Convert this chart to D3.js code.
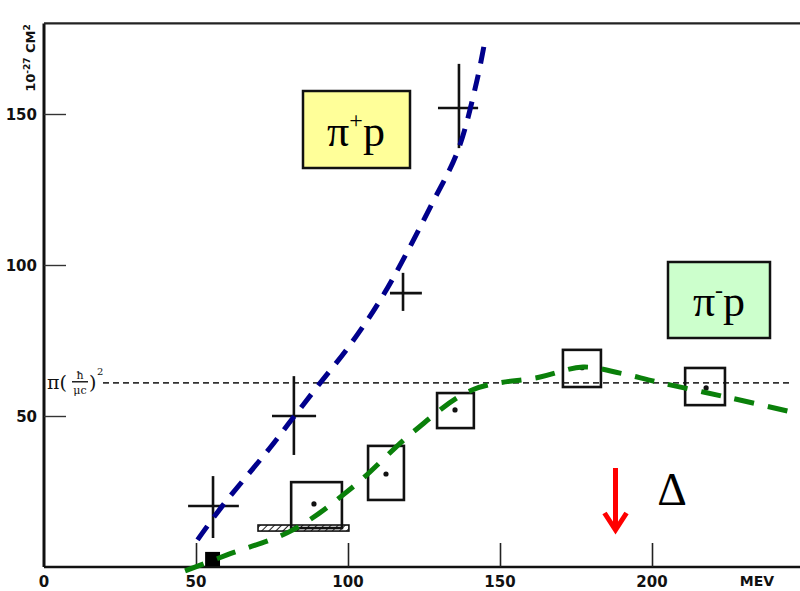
<!DOCTYPE html>
<html>
<head>
<meta charset="utf-8">
<script src="https://cdn.jsdelivr.net/npm/d3@7"></script>
<style>
  body { margin: 0; background: #fff; }
  svg { display: block; }
</style>
</head>
<body>
<div id="chart-area"></div>
<script>
// pi+ p crosses: centre and error bars (MeV, 10^-27 cm^2)
const plusX = [55.6, 82.2, 118.1, 136.5];
const plusY = [20.2, 50, 90.7, 152];
const plusXlo = [47.4, 75, 113.8, 129.6];
const plusXhi = [64.1, 89.5, 124.3, 142.8];
const plusYlo = [9.6, 37.1, 84.8, 138.7];
const plusYhi = [30.1, 63.2, 97.4, 166.6];

// pi- p boxes
const minusXlo = [81.3, 106.6, 129.3, 170.7, 210.9];
const minusXhi = [98, 118.4, 141.4, 183.2, 224];
const minusYlo = [12.9, 22.2, 46, 59.6, 53.6];
const minusYhi = [28.1, 40.1, 57.6, 71.9, 65.9];
const minusDotX = [88.8, 112.5, 135.2, 177, 217.8];
const minusDotY = [20.9, 30.8, 52, 66, 59.3];

// dashed guide curves
const blueX = [50.5, 58.5, 74.3, 82.4, 89.8, 101, 112, 128, 136.2, 142.4, 145];
const blueY = [9, 20, 39.4, 50, 59.6, 74, 90.7, 121, 138, 161, 174];
const greenX = [46.4, 60.2, 81.9, 101.6, 121.4, 140.8, 163.2, 177.3, 189.5, 201.6, 225.7, 248.7];
const greenY = [-1.3, 4, 12.3, 26.5, 44.7, 58.6, 62.9, 66.2, 64.2, 61.3, 56, 50.7];

const xTicks = [0, 50, 100, 150, 200];
const yTicks = [50, 100, 150];
const geomLimit = 61;   // pi (h/mu c)^2
const deltaE = 188;

const svg = d3.select("#chart-area")
  .append("svg")
  .attr("width", 800)
  .attr("height", 591);

const x = d3.scaleLinear().domain([0, 250]).range([44, 44 + 250 * 3.04]);
const y = d3.scaleLinear().domain([0, 180]).range([567, 567 - 180 * 3.02]);

const defs = svg.append("defs");
const hatch = defs.append("pattern")
  .attr("id", "hatch")
  .attr("patternUnits", "userSpaceOnUse")
  .attr("width", 5)
  .attr("height", 5)
  .attr("patternTransform", "rotate(45)");
hatch.append("line")
  .attr("x1", 0).attr("y1", 0).attr("x2", 0).attr("y2", 5)
  .attr("stroke", "#222").attr("stroke-width", 2);

// frame
svg.append("line")
  .attr("x1", x(0)).attr("x2", x(0)).attr("y1", y(180)).attr("y2", y(0))
  .attr("stroke", "#111").attr("stroke-width", 3);
svg.append("line")
  .attr("x1", x(0)).attr("x2", 800).attr("y1", y(180)).attr("y2", y(180))
  .attr("stroke", "#222").attr("stroke-width", 2.2);
svg.append("line")
  .attr("x1", x(0)).attr("x2", 800).attr("y1", y(0)).attr("y2", y(0))
  .attr("stroke", "#111").attr("stroke-width", 2.5);

// axes
const xAxis = d3.axisTop(x).tickValues(xTicks.slice(1)).tickSize(24).tickFormat("");
svg.append("g")
  .attr("transform", `translate(0,${y(0)})`)
  .call(xAxis)
  .call(g => g.select(".domain").remove())
  .call(g => g.selectAll(".tick line").attr("stroke", "#222").attr("stroke-width", 1.6));

const yAxis = d3.axisRight(y).tickValues(yTicks).tickSize(22).tickFormat("");
svg.append("g")
  .attr("transform", `translate(${x(0)},0)`)
  .call(yAxis)
  .call(g => g.select(".domain").remove())
  .call(g => g.selectAll(".tick line").attr("stroke", "#333").attr("stroke-width", 1.4));

const labelFont = "'DejaVu Sans', sans-serif";
svg.append("g").selectAll("text")
  .data(xTicks)
  .join("text")
  .attr("x", d => x(d))
  .attr("y", 587)
  .attr("text-anchor", "middle")
  .attr("font-family", labelFont)
  .attr("font-weight", "bold")
  .attr("font-size", 15)
  .attr("fill", "#111")
  .text(d => d);
svg.append("text")
  .attr("x", 757).attr("y", 586)
  .attr("text-anchor", "middle")
  .attr("font-family", labelFont)
  .attr("font-weight", "bold")
  .attr("font-size", 14)
  .attr("fill", "#111")
  .text("MEV");

svg.append("g").selectAll("text")
  .data(yTicks)
  .join("text")
  .attr("x", 37)
  .attr("y", d => y(d) + 6)
  .attr("text-anchor", "end")
  .attr("font-family", labelFont)
  .attr("font-weight", "bold")
  .attr("font-size", 15)
  .attr("fill", "#111")
  .text(d => d);

svg.append("text")
  .attr("transform", "translate(35,58) rotate(-90)")
  .attr("text-anchor", "middle")
  .attr("font-family", labelFont)
  .attr("font-weight", "bold")
  .attr("font-size", 13)
  .attr("fill", "#111")
  .html("10<tspan dy='-5' font-size='9'>-27</tspan><tspan dy='5'> CM</tspan><tspan dy='-5' font-size='9'>2</tspan>");

// geometric cross-section line and label
svg.append("line")
  .attr("x1", 103).attr("x2", 792)
  .attr("y1", y(geomLimit)).attr("y2", y(geomLimit))
  .attr("stroke", "#333").attr("stroke-width", 1.8)
  .attr("stroke-dasharray", "6,4");
const gy = y(geomLimit);
const serifLab = "'DejaVu Serif', serif";
svg.append("text")
  .attr("x", 47).attr("y", gy + 6)
  .attr("font-family", serifLab).attr("font-size", 19).attr("fill", "#111")
  .text("π(");
svg.append("text")
  .attr("x", 80).attr("y", gy - 4)
  .attr("text-anchor", "middle")
  .attr("font-family", serifLab).attr("font-size", 11).attr("fill", "#111")
  .text("ħ");
svg.append("line")
  .attr("x1", 72).attr("x2", 88).attr("y1", gy - 1).attr("y2", gy - 1)
  .attr("stroke", "#111").attr("stroke-width", 1.4);
svg.append("text")
  .attr("x", 80).attr("y", gy + 11)
  .attr("text-anchor", "middle")
  .attr("font-family", serifLab).attr("font-size", 11).attr("fill", "#111")
  .text("μc");
svg.append("text")
  .attr("x", 89).attr("y", gy + 6)
  .attr("font-family", serifLab).attr("font-size", 19).attr("fill", "#111")
  .text(")");
svg.append("text")
  .attr("x", 97).attr("y", gy - 8)
  .attr("font-family", serifLab).attr("font-size", 10).attr("fill", "#111")
  .text("2");

// pi- p hatched energy-band bar
svg.append("rect")
  .attr("x", x(70.4)).attr("y", y(13.9))
  .attr("width", x(100.3) - x(70.4)).attr("height", y(11.9) - y(13.9))
  .attr("fill", "url(#hatch)")
  .attr("stroke", "#111").attr("stroke-width", 1.6);

// pi- p filled square at threshold
svg.append("rect")
  .attr("x", x(53)).attr("y", y(5))
  .attr("width", x(57.9) - x(53)).attr("height", y(0.3) - y(5))
  .attr("fill", "#000");

// pi- p boxes
const boxes = minusXlo.map((d, i) => ({
  x0: d, x1: minusXhi[i], y0: minusYlo[i], y1: minusYhi[i], dx: minusDotX[i], dy: minusDotY[i]
}));
svg.append("g").selectAll("rect")
  .data(boxes)
  .join("rect")
  .attr("x", d => x(d.x0))
  .attr("y", d => y(d.y1))
  .attr("width", d => x(d.x1) - x(d.x0))
  .attr("height", d => y(d.y0) - y(d.y1))
  .attr("fill", "none")
  .attr("stroke", "#111")
  .attr("stroke-width", 2.6);
svg.append("g").selectAll("circle")
  .data(boxes)
  .join("circle")
  .attr("cx", d => x(d.dx))
  .attr("cy", d => y(d.dy))
  .attr("r", 2.6)
  .attr("fill", "#111");

// pi+ p crosses
const crosses = plusX.map((d, i) => ({
  cx: d, cy: plusY[i], xlo: plusXlo[i], xhi: plusXhi[i], ylo: plusYlo[i], yhi: plusYhi[i]
}));
const cr = svg.append("g").selectAll("g").data(crosses).join("g");
cr.append("line")
  .attr("x1", d => x(d.xlo)).attr("x2", d => x(d.xhi))
  .attr("y1", d => y(d.cy)).attr("y2", d => y(d.cy))
  .attr("stroke", "#111").attr("stroke-width", 2.6);
cr.append("line")
  .attr("x1", d => x(d.cx)).attr("x2", d => x(d.cx))
  .attr("y1", d => y(d.ylo)).attr("y2", d => y(d.yhi))
  .attr("stroke", "#111").attr("stroke-width", 2.6);

// dashed curves
const line = d3.line()
  .x(d => x(d[0]))
  .y(d => y(d[1]))
  .curve(d3.curveCatmullRom.alpha(0.5));

svg.append("path")
  .attr("d", line(greenX.map((d, i) => [d, greenY[i]])))
  .attr("fill", "none")
  .attr("stroke", "#0a800a")
  .attr("stroke-width", 5)
  .attr("stroke-dasharray", "20,14");

svg.append("path")
  .attr("d", line(blueX.map((d, i) => [d, blueY[i]])))
  .attr("fill", "none")
  .attr("stroke", "#00008c")
  .attr("stroke-width", 5)
  .attr("stroke-dasharray", "17,11");

// legend boxes
const serif = "'Liberation Serif', 'Times New Roman', serif";
svg.append("rect")
  .attr("x", 303).attr("y", 91).attr("width", 107).attr("height", 77)
  .attr("fill", "#ffff99").attr("stroke", "#111").attr("stroke-width", 2.5);
const t1 = svg.append("text")
  .attr("x", 356).attr("y", 146)
  .attr("text-anchor", "middle")
  .attr("font-family", serif).attr("font-size", 44).attr("fill", "#000");
t1.append("tspan").text("π");
t1.append("tspan").attr("font-size", 24).attr("dy", -18).text("+");
t1.append("tspan").attr("dy", 18).text("p");

svg.append("rect")
  .attr("x", 668).attr("y", 262).attr("width", 102).attr("height", 76)
  .attr("fill", "#ccffcc").attr("stroke", "#111").attr("stroke-width", 2.5);
const t2 = svg.append("text")
  .attr("x", 719).attr("y", 316)
  .attr("text-anchor", "middle")
  .attr("font-family", serif).attr("font-size", 44).attr("fill", "#000");
t2.append("tspan").text("π");
t2.append("tspan").attr("font-size", 24).attr("dy", -18).text("-");
t2.append("tspan").attr("dy", 18).text("p");

// Delta resonance marker
const ax = x(deltaE);
svg.append("line")
  .attr("x1", ax).attr("x2", ax)
  .attr("y1", 468).attr("y2", 528)
  .attr("stroke", "#ff0000").attr("stroke-width", 5);
svg.append("path")
  .attr("d", `M${ax - 11},${513} L${ax},${530} L${ax + 11},${513}`)
  .attr("fill", "none")
  .attr("stroke", "#ff0000").attr("stroke-width", 5)
  .attr("stroke-linejoin", "miter");
svg.append("text")
  .attr("x", 672).attr("y", 505)
  .attr("text-anchor", "middle")
  .attr("font-family", serif).attr("font-size", 46).attr("fill", "#000")
  .text("Δ");
</script>
</body>
</html>
